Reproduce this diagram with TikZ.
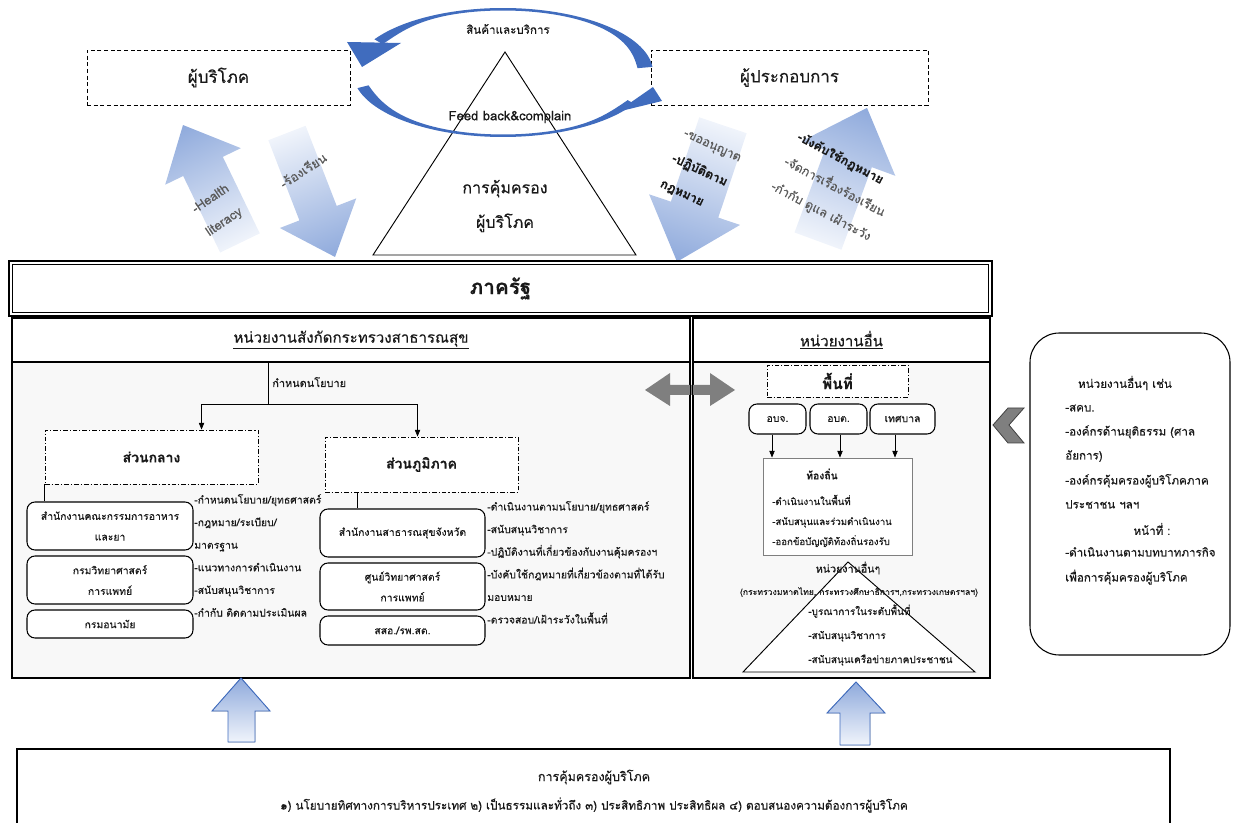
\documentclass[tikz,border=0pt]{standalone}
\usepackage{fontspec}
\setmainfont{Loma}[Script=Thai, FakeBold=0.3]
\usetikzlibrary{arrows.meta,calc}
\definecolor{cblue}{RGB}{64,108,190}
\definecolor{gblue}{RGB}{143,170,220}
\definecolor{gpale}{RGB}{240,244,251}
\definecolor{bodyfill}{RGB}{248,248,248}
\definecolor{darrow}{RGB}{127,127,127}
\definecolor{ink}{RGB}{25,25,25}
\definecolor{softink}{RGB}{90,90,90}
\newcommand\fsXL{\fontsize{15.5}{17}\selectfont}
\newcommand\fsL{\fontsize{12.7}{14}\selectfont}
\newcommand\fsM{\fontsize{10.5}{12}\selectfont}
\newcommand\fsHd{\fontsize{11.3}{13}\selectfont}
\newcommand\fsArr{\fontsize{9.3}{21}\selectfont}
\newcommand\fsS{\fontsize{8.7}{10}\selectfont}
\newcommand\fsXS{\fontsize{7.8}{9}\selectfont}
\newcommand\fsXXS{\fontsize{7.2}{8}\selectfont}
\begin{document}
\begin{tikzpicture}[x=0.75pt,y=-0.75pt,
  text=ink,
  declare function={
    tkt(\t)=2.5+12.5*exp(-((\t-5)/30)*((\t-5)/30))+7*exp(-((\t-150)/22)*((\t-150)/22));
    tkb(\t)=2.5+9*exp(-((\t-194)/28)*((\t-194)/28))+5*exp(-((\t-330)/20)*((\t-330)/20));
  },
  dashbox/.style={draw, dash pattern=on 3pt off 2pt, line width=0.7pt, fill=white, inner sep=0pt},
  ddbox/.style={draw, dash pattern=on 3.5pt off 1.5pt on 0.8pt off 1.5pt, line width=0.7pt, fill=white, inner sep=0pt},
  rbox/.style={draw, rounded corners=6pt, line width=0.8pt, fill=white, align=center, inner sep=0pt, font=\fsXS},
  twoline/.style={font=\fontsize{7.8}{15.5}\selectfont},
  hdrbox/.style={draw, line width=0.8pt, fill=white, inner sep=0pt},
  flow/.style={-{Triangle[length=5pt,width=4pt]}, line width=0.5pt},
  plain/.style={line width=0.6pt},
  gshade/.style={top color=gblue, bottom color=gpale},
  gshadeup/.style={top color=gpale, bottom color=gblue},
  arrtext/.style={font=\fsArr, text=softink, align=left, inner sep=0pt},
  note/.style={anchor=base west, inner sep=0pt},
]
\useasboundingbox (0,0) rectangle (1233,823);
\clip (0,0) rectangle (1233,823);

% ---------------- top: consumers, operators, cycle ----------------
\node[dashbox, minimum width=197.25pt, minimum height=41.25pt, font=\fsL] (consumer) at (218.5,77.5) {ผู้บริโภค};
\node[dashbox, minimum width=207.75pt, minimum height=41.25pt, font=\fsL] (operator) at (789.5,77.5) {ผู้ประกอบการ};

% protection triangle
\coordinate (ta) at (505,52);
\coordinate (tl) at (373,255);
\coordinate (tr) at (636,255);
\draw[line width=0.7pt, fill=white] (ta) -- (tl) -- (tr) -- cycle;
\node[font=\fontsize{12}{26}\selectfont, align=center] (protect) at (505,206) {การคุ้มครอง\\ผู้บริโภค};

% goods/services and feedback loop
\fill[cblue] plot[domain=5:149,samples=70] ({503+150*cos(\x)},{72.5-64.5*sin(\x)})
  -- plot[domain=149:5,samples=70] ({503+(150-tkt(\x))*cos(\x)},{72.5-(64.5-tkt(\x))*sin(\x)}) -- cycle;
\fill[cblue] (347,42) -- (401,43) -- (362,67) -- cycle;
\fill[cblue] plot[domain=194:331,samples=70] ({503+150*cos(\x)},{72.5-64.5*sin(\x)})
  -- plot[domain=331:194,samples=70] ({503+(150-tkb(\x))*cos(\x)},{72.5-(64.5-tkb(\x))*sin(\x)}) -- cycle;
\fill[cblue] (617,112) -- (662,101) -- (653,87) -- cycle;
\node[font=\fsS] (goods) at (508,29) {สินค้าและบริการ};
\node[font=\fontsize{9.8}{11}\selectfont] (feedback) at (510,117) {Feed back\&complain};

% ---------------- shaded arrows between market and state ----------------
\begin{scope}[transform canvas={shift={(211.5,184)},rotate=25.8}]
  \shade[gshade] (0,-65.5) -- (42,-19.5) -- (22,-19.5) -- (22,65.5) -- (-22,65.5) -- (-22,-19.5) -- (-42,-19.5) -- cycle;
\end{scope}
\begin{scope}[transform canvas={shift={(311,195)},rotate=21.2}]
  \shade[gshadeup] (0,66.5) -- (41,19.5) -- (20,19.5) -- (20,-66.5) -- (-20,-66.5) -- (-20,19.5) -- (-41,19.5) -- cycle;
\end{scope}
\begin{scope}[transform canvas={shift={(700,193.5)},rotate=-18.6}]
  \shade[gshadeup] (0,72) -- (48,17) -- (25,17) -- (25,-72) -- (-25,-72) -- (-25,17) -- (-48,17) -- cycle;
\end{scope}
\begin{scope}[transform canvas={shift={(842.5,174.5)},rotate=-20.2}]
  \shade[gshade] (0,-71) -- (50,-17) -- (25,-17) -- (25,71) -- (-25,71) -- (-25,-17) -- (-50,-17) -- cycle;
\end{scope}

\node[arrtext, font=\fontsize{9.6}{20}\selectfont, rotate=34, anchor=west] (hlit) at (201,222) {-Health\\\hspace*{-1pt}literacy};
\node[arrtext, font=\fontsize{9.6}{11}\selectfont, rotate=33] (cmp) at (303,170) {-ร้องเรียน};
\node[arrtext, rotate=-25, anchor=west] (permit) at (672,159) {-ขออนุญาต\\\textcolor{ink}{\bfseries -ปฏิบัติตาม}\\\textcolor{ink}{\bfseries กฎหมาย}};
\node[arrtext, rotate=-28, anchor=west] (enforce) at (785,161) {\textcolor{ink}{\bfseries -บังคับใช้กฎหมาย}\\-จัดการเรื่องร้องเรียน\\-กำกับ ดูแล เฝ้าระวัง};

% ---------------- state sector ----------------
\node[draw, line width=1.8pt, fill=white, minimum width=737.25pt, minimum height=41.25pt, inner sep=0pt, font=\fsXL\bfseries] (state) at (500.5,288.5) {ภาครัฐ};
\draw[line width=0.6pt] ([shift={(5,5)}]state.north west) rectangle ([shift={(-5,-5)}]state.south east);

\node[hdrbox, minimum width=508.5pt, minimum height=33pt, font=\fsHd] (lhdr) at (351,340) {\underline{หน่วยงานสังกัดกระทรวงสาธารณสุข}};
\node[hdrbox, minimum width=222.75pt, minimum height=33pt, font=\fsHd] (rhdr) at (841.5,340) {\underline{หน่วยงานอื่น}};
\node[hdrbox, fill=bodyfill, minimum width=508.5pt, minimum height=237pt] (lbody) at (351,520) {};
\node[hdrbox, fill=bodyfill, minimum width=222.75pt, minimum height=237pt] (rbody) at (841.5,520) {};

% two-way link between the ministry and other agencies
\fill[darrow] (645,390) -- (670,373) -- (670,385) -- (710,385) -- (710,373) -- (735,390)
  -- (710,406) -- (710,395) -- (670,395) -- (670,406) -- cycle;
\draw[line width=0.8pt] (lbody.north east) -- (lbody.south east);
\draw[line width=0.8pt] (rbody.north west) -- (rbody.south west);

% ministry of public health
\coordinate (polTop) at (268,362);
\coordinate (polBend) at (268,404);
\node[font=\fontsize{8.2}{10}\selectfont, note] (policy) at (272,387) {กำหนดนโยบาย};
\node[ddbox, minimum width=159.75pt, minimum height=40.5pt, font=\fsM\bfseries] (central) at (151.5,457) {ส่วนกลาง};
\node[ddbox, minimum width=144.75pt, minimum height=41.25pt, font=\fsM\bfseries] (regional) at (421.5,464.5) {ส่วนภูมิภาค};
\draw[plain] (polTop) -- (polBend);
\draw[flow] (polBend) -| ([xshift=117.75pt]central.north west);
\draw[flow] (polBend) -| ([xshift=69.75pt]regional.north west);

\node[rbox, twoline, minimum width=124.5pt, minimum height=36pt] (fda) at (110,526) {สำนักงานคณะกรรมการอาหาร\\และยา};
\node[rbox, twoline, minimum width=124.5pt, minimum height=36pt] (dms) at (110,580) {กรมวิทยาศาสตร์\\การแพทย์};
\node[rbox, minimum width=124.5pt, minimum height=21pt] (anamai) at (110,624) {กรมอนามัย};
\draw[line width=0.9pt] (central.south west) -- (central.south west |- fda.north);

\node[rbox, minimum width=123.75pt, minimum height=36pt] (pho) at (402.5,533) {สำนักงานสาธารณสุขจังหวัด};
\node[rbox, twoline, minimum width=123.75pt, minimum height=35.25pt] (rmsc) at (402.5,586.5) {ศูนย์วิทยาศาสตร์\\การแพทย์};
\node[rbox, minimum width=123.75pt, minimum height=21.75pt] (sso) at (402.5,630.5) {สสอ./รพ.สต.};
\draw[line width=0.9pt] ([xshift=24.75pt]regional.south west) -- ([xshift=24.75pt]regional.south west |- pho.north);

\foreach \t [count=\i] in {-กำหนดนโยบาย/ยุทธศาสตร์, -กฎหมาย/ระเบียบ/, มาตรฐาน, -แนวทางการดำเนินงาน, -สนับสนุนวิชาการ, -กำกับ ติดตามประเมินผล}
  \node[font=\fsXS, note] (cnote\i) at (194,{503.5+22.6*(\i-1)}) {\t};
\foreach \t [count=\i] in {-ดำเนินงานตามนโยบาย/ยุทธศาสตร์, -สนับสนุนวิชาการ, -ปฏิบัติงานที่เกี่ยวข้องกับงานคุ้มครองฯ, -บังคับใช้กฎหมายที่เกี่ยวข้องตามที่ได้รับ, มอบหมาย, -ตรวจสอบ/เฝ้าระวังในพื้นที่}
  \node[font=\fsXS, note] (rnote\i) at (487,{510.5+22.6*(\i-1)}) {\t};

% other agencies: local government
\node[ddbox, minimum width=105.75pt, minimum height=24pt, font=\fontsize{11.5}{13}\selectfont\bfseries] (area) at (837.5,381) {พื้นที่};
\node[rbox, minimum width=42.75pt, minimum height=22.5pt] (pao) at (777.5,419) {อบจ.};
\node[rbox, minimum width=42.75pt, minimum height=22.5pt] (tao) at (838.5,419) {อบต.};
\node[rbox, minimum width=48.75pt, minimum height=22.5pt] (muni) at (902.5,419) {เทศบาล};
\node[draw=darrow, line width=0.7pt, fill=white, minimum width=111.75pt, minimum height=72.75pt, inner sep=0pt] (local) at (837.5,506.5) {};
\draw[flow] ([xshift=-4.125pt]pao.south) -- ([xshift=-4.125pt]pao.south |- local.north);
\draw[flow] ([xshift=1.125pt]tao.south) -- ([xshift=1.125pt]tao.south |- local.north);
\draw[flow] ([xshift=-5.625pt]muni.south) -- ([xshift=-5.625pt]muni.south |- local.north);
\node[font=\fsXS\bfseries] (localttl) at (822,474) {ท้องถิ่น};
\foreach \t [count=\i] in {-ดำเนินงานในพื้นที่, -สนับสนุนและร่วมดำเนินงาน, -ออกข้อบัญญัติท้องถิ่นรองรับ}
  \node[font=\fsXXS, note] (lnote\i) at (772,{505+20*(\i-1)}) {\t};

% other ministries
\coordinate (ma) at (848,562);
\coordinate (ml) at (743,672);
\coordinate (mr) at (975,672);
\draw[line width=0.7pt, fill=white] (ma) -- (ml) -- (mr) -- cycle;
\node[font=\fontsize{8}{9}\selectfont] (minttl) at (848,568) {หน่วยงานอื่นๆ};
\node[font=\fontsize{6.5}{8}\selectfont] (minlist) at (859,592) {(กระทรวงมหาดไทย, กระทรวงศึกษาธิการฯ,กระทรวงเกษตรฯลฯ)};
\foreach \t [count=\i] in {-บูรณาการในระดับพื้นที่, -สนับสนุนวิชาการ, -สนับสนุนเครือข่ายภาคประชาชน}
  \node[font=\fontsize{7.5}{9}\selectfont, note] (mnote\i) at (808,{615+24*(\i-1)}) {\t};

% independent organisations
\node[draw, rounded corners=22pt, line width=0.8pt, fill=white, minimum width=150pt, minimum height=241.5pt, inner sep=0pt] (indep) at (1130,494) {};
\node[font=\fsS] (indepttl) at (1125,383) {หน่วยงานอื่นๆ เช่น};
\node[font=\fsS, note] (ind1) at (1065,411.5) {-สคบ.};
\node[font=\fsS, note] (ind2) at (1065,435.5) {-องค์กรด้านยุติธรรม (ศาล};
\node[font=\fsS, note] (ind3) at (1065,459.5) {อัยการ)};
\node[font=\fsS, note] (ind4) at (1065,484.5) {-องค์กรคุ้มครองผู้บริโภคภาค};
\node[font=\fsS, note] (ind5) at (1065,508.5) {ประชาชน ฯลฯ};
\node[font=\fsS] (duty) at (1152,529) {หน้าที่ :};
\node[font=\fsS, note] (ind6) at (1065,556.5) {-ดำเนินงานตามบทบาทภารกิจ};
\node[font=\fsS, note] (ind7) at (1065,581.5) {เพื่อการคุ้มครองผู้บริโภค};
\filldraw[fill=darrow, draw=black!75, line width=0.6pt] (993,425) -- (1008,408) -- (1024,408) -- (1009,425) -- (1024,443) -- (1008,443) -- cycle;

% ---------------- principles feeding both sides ----------------
\filldraw[gshade, draw=cblue, line width=0.7pt] (241,678) -- (270,711) -- (255,711) -- (255,742) -- (228,742) -- (228,711) -- (212,711) -- cycle;
\filldraw[gshade, draw=cblue, line width=0.7pt] (856,682) -- (885,713) -- (870,713) -- (870,745) -- (840,745) -- (840,713) -- (827,713) -- cycle;
\node[draw, line width=1.2pt, fill=white, minimum width=864.75pt, minimum height=75.75pt, inner sep=0pt] (principle) at (593.5,799.5) {};
\node[font=\fontsize{9.4}{11}\selectfont] (prttl) at (594,777) {การคุ้มครองผู้บริโภค};
\node[font=\fontsize{8.8}{10}\selectfont] (prlist) at (594,805) {๑) นโยบายทิศทางการบริหารประเทศ ๒) เป็นธรรมและทั่วถึง ๓) ประสิทธิภาพ ประสิทธิผล ๔) ตอบสนองความต้องการผู้บริโภค};
\end{tikzpicture}
\end{document}
